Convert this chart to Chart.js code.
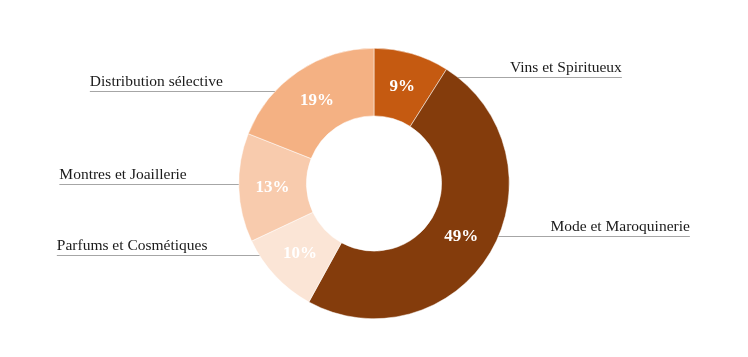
<!DOCTYPE html>
<html>
<head>
<meta charset="utf-8">
<script src="https://cdn.jsdelivr.net/npm/chart.js@4/dist/chart.umd.min.js"></script>
<style>
  html, body { margin: 0; padding: 0; background: #ffffff; }
  #wrap { width: 748px; height: 357px; }
</style>
</head>
<body>
<div id="wrap"><canvas id="c" width="748" height="357"></canvas></div>
<script>
const categories = ["Vins et Spiritueux", "Mode et Maroquinerie", "Parfums et Cosmétiques", "Montres et Joaillerie", "Distribution sélective"];
const shares = [9, 49, 10, 13, 19];
const sliceColors = ["#C55A11", "#843C0C", "#FBE5D6", "#F8CBAD", "#F4B183"];

const FONT = '"Liberation Serif", "Times New Roman", serif';

const labelPlugin = {
  id: 'calloutLabels',
  afterDatasetsDraw(chart) {
    const ctx = chart.ctx;
    const meta = chart.getDatasetMeta(0);
    const total = shares.reduce((a, b) => a + b, 0);
    ctx.save();
    meta.data.forEach((arc, i) => {
      const p = arc.getProps(['x', 'y', 'startAngle', 'endAngle', 'innerRadius', 'outerRadius'], true);
      const mid = (p.startAngle + p.endAngle) / 2;
      const midR = (p.innerRadius + p.outerRadius) / 2;
      // percentage inside slice
      ctx.font = 'bold 17px ' + FONT;
      ctx.fillStyle = '#ffffff';
      ctx.textAlign = 'center';
      ctx.textBaseline = 'middle';
      const pct = Math.round(shares[i] / total * 100) + '%';
      ctx.fillText(pct, p.x + Math.cos(mid) * midR, p.y + Math.sin(mid) * midR + 1);

      // callout with leader line
      const R = p.outerRadius;
      const ly = Math.round(p.y + 0.8 * R * Math.sin(mid) - 3) + 0.5;
      const edge = Math.sqrt(Math.max(0, R * R - (ly - p.y) * (ly - p.y)));
      const right = Math.cos(mid) >= 0;
      ctx.font = '15.5px ' + FONT;
      const tw = ctx.measureText(categories[i]).width;
      const gap = 52;
      let x0, x1;
      if (right) {
        x0 = p.x + edge;
        x1 = p.x + edge + gap + tw;
      } else {
        x0 = p.x - edge;
        x1 = p.x - edge - gap - tw;
      }
      ctx.strokeStyle = '#A6A6A6';
      ctx.lineWidth = 1;
      ctx.beginPath();
      ctx.moveTo(x0, ly);
      ctx.lineTo(x1, ly);
      ctx.stroke();
      ctx.fillStyle = '#1a1a1a';
      ctx.textBaseline = 'alphabetic';
      ctx.textAlign = right ? 'right' : 'left';
      ctx.fillText(categories[i], x1, ly - 6);
    });
    ctx.restore();
  }
};

new Chart(document.getElementById('c'), {
  type: 'doughnut',
  data: {
    labels: categories,
    datasets: [{
      data: shares,
      backgroundColor: sliceColors,
      borderColor: '#ffffff',
      borderWidth: 0.5,
      hoverOffset: 0
    }]
  },
  options: {
    responsive: false,
    animation: false,
    cutout: '50%',
    layout: { padding: { top: 48, bottom: 38, left: 0, right: 0 } },
    plugins: {
      legend: { display: false },
      tooltip: { enabled: false }
    }
  },
  plugins: [labelPlugin]
});
</script>
</body>
</html>
